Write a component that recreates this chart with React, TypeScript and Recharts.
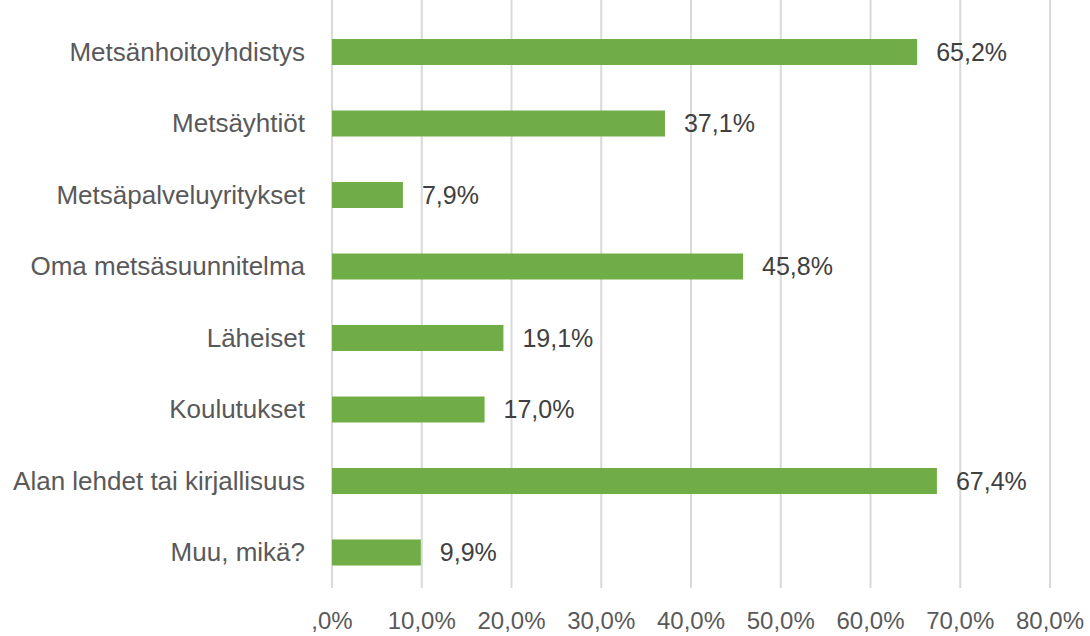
import React from 'react';
import { BarChart, Bar, XAxis, YAxis, CartesianGrid, LabelList } from 'recharts';

const categories = [
  'Metsänhoitoyhdistys',
  'Metsäyhtiöt',
  'Metsäpalveluyritykset',
  'Oma metsäsuunnitelma',
  'Läheiset',
  'Koulutukset',
  'Alan lehdet tai kirjallisuus',
  'Muu, mikä?',
];

const shares = [65.2, 37.1, 7.9, 45.8, 19.1, 17.0, 67.4, 9.9];

const xTicks = [0, 10, 20, 30, 40, 50, 60, 70, 80];
const xTickLabels = [',0%', '10,0%', '20,0%', '30,0%', '40,0%', '50,0%', '60,0%', '70,0%', '80,0%'];

const data = categories.map((name, i) => ({ name, value: shares[i] }));

const FONT = '"Liberation Sans", Arial, sans-serif';

const fmtPct = (v: number) => `${v.toFixed(1).replace('.', ',')}%`;

const App: React.FC = () => {
  return (
    <div style={{ position: 'absolute', left: 0, top: 0, background: '#fff' }}>
      <BarChart
        width={1090}
        height={636}
        data={data}
        layout="vertical"
        margin={{ top: 0, right: 40, bottom: 0, left: 0 }}
      >
        <CartesianGrid horizontal={false} stroke="#d9d9d9" strokeWidth={2} />
        <XAxis
          type="number"
          domain={[0, 80]}
          ticks={xTicks}
          interval={0}
          height={48}
          axisLine={false}
          tickLine={false}
          tickSize={0}
          tickMargin={24}
          tickFormatter={(v: number) => xTickLabels[xTicks.indexOf(v)] ?? ''}
          tick={{ fill: '#595959', fontSize: 24, fontFamily: FONT }}
        />
        <YAxis
          type="category"
          dataKey="name"
          width={332}
          padding={{ top: 16, bottom: 0 }}
          axisLine={false}
          tickLine={false}
          tickSize={0}
          tickMargin={27}
          interval={0}
          tick={{ fill: '#595959', fontSize: 26, fontFamily: FONT }}
        />
        <Bar dataKey="value" fill="#70ad47" barSize={26} isAnimationActive={false}>
          <LabelList
            dataKey="value"
            position="right"
            offset={19}
            formatter={(v: number) => fmtPct(v)}
            style={{ fill: '#404040', fontSize: 25, fontFamily: FONT }}
          />
        </Bar>
      </BarChart>
    </div>
  );
};

export default App;
